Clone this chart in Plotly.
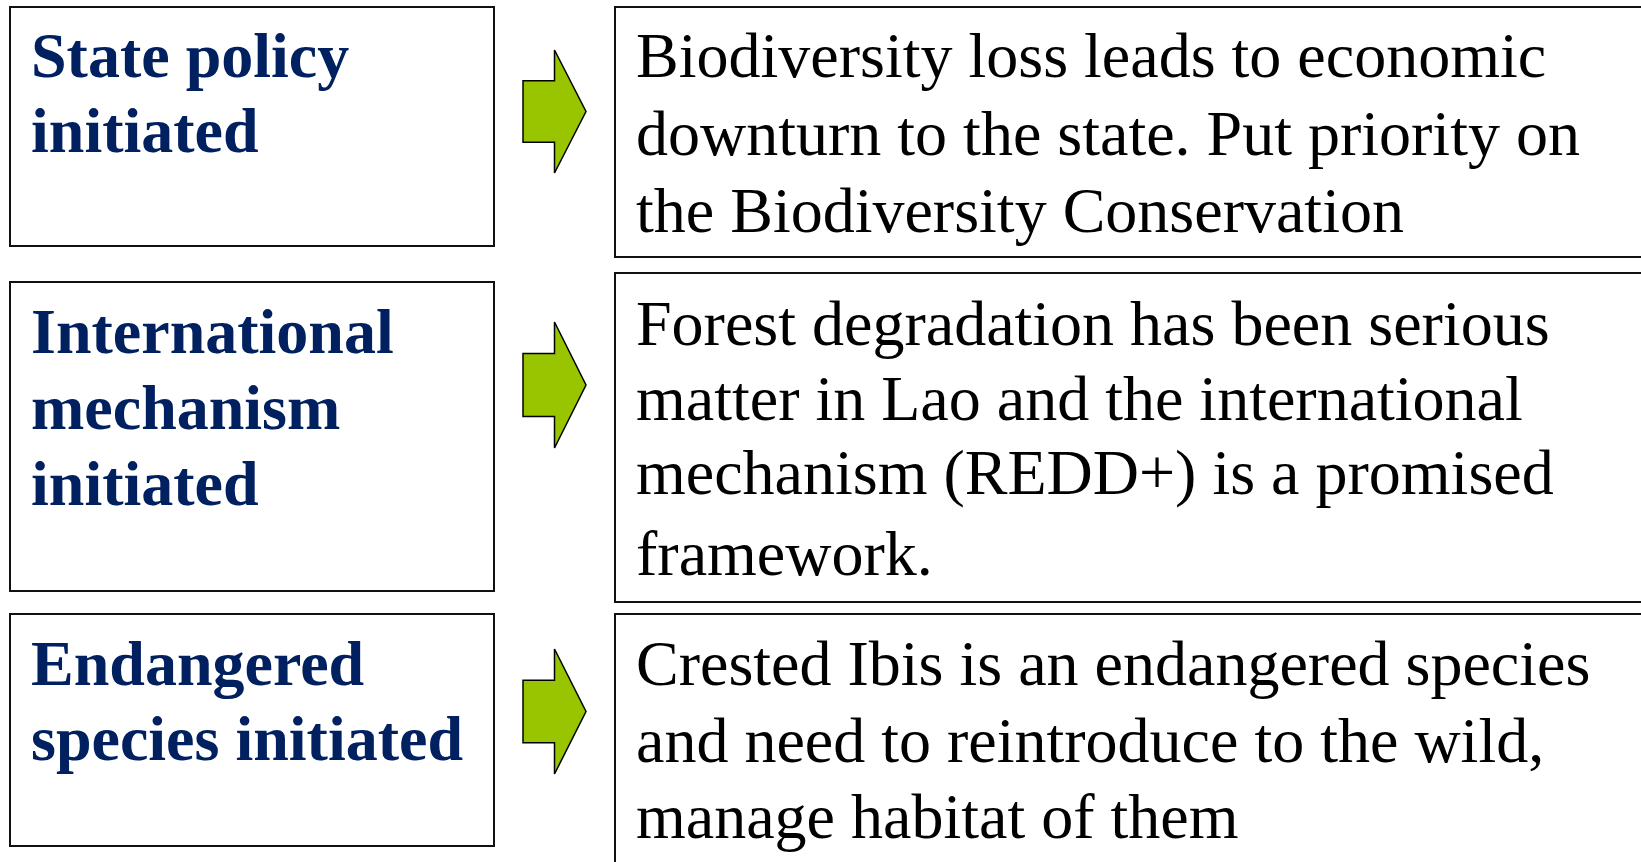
import plotly.graph_objects as go

W, H = 1641, 862

# Content
left_labels = [
    ["State policy", "initiated"],
    ["International", "mechanism", "initiated"],
    ["Endangered", "species initiated"],
]
right_texts = [
    ["Biodiversity loss leads to economic",
     "downturn to the state. Put priority on",
     "the Biodiversity Conservation"],
    ["Forest degradation has been serious",
     "matter in Lao and the international",
     "mechanism (REDD+) is a promised",
     "framework."],
    ["Crested Ibis is an endangered species",
     "and need to reintroduce to the wild,",
     "manage habitat of them"],
]

# Layout geometry (page pixels)
left_boxes = [(10, 7, 494, 246), (10, 282, 494, 591), (10, 614, 494, 846)]
right_boxes = [(615, 7, 1660, 257), (615, 273, 1660, 602), (615, 614, 1660, 880)]
arrows = [(523, 586, 50, 173), (523, 586, 322, 448), (523, 586, 649, 774)]
left_baselines = [[77, 152], [353, 429, 505], [685, 760]]
right_baselines = [[77, 155, 232], [345, 420, 494, 575], [685, 762, 838]]

FS = 64
NAVY = "#002060"
GREEN = "#99C400"
FONT = "Liberation Serif, Times New Roman, serif"
BASE_OFF = 22

fig = go.Figure()
fig.add_trace(go.Scatter(x=[0, W], y=[0, H], mode="markers",
                         marker=dict(opacity=0), hoverinfo="skip", showlegend=False))

shapes = []
for (x0, y0, x1, y1) in left_boxes + right_boxes:
    shapes.append(dict(type="rect", xref="x", yref="y", x0=x0, y0=y0, x1=x1, y1=y1,
                       line=dict(color="#111111", width=2), fillcolor="rgba(0,0,0,0)"))
for (ax0, ax1, ay0, ay1) in arrows:
    cy = (ay0 + ay1) / 2
    h = ay1 - ay0
    xm = ax0 + (ax1 - ax0) * 0.5
    path = (f"M {ax0},{cy - h*0.25} L {xm},{cy - h*0.25} L {xm},{ay0} L {ax1},{cy} "
            f"L {xm},{ay1} L {xm},{cy + h*0.25} L {ax0},{cy + h*0.25} Z")
    shapes.append(dict(type="path", xref="x", yref="y", path=path,
                       fillcolor=GREEN, line=dict(color="#000000", width=1.5)))

annotations = []
for lines, bls in zip(left_labels, left_baselines):
    for t, b in zip(lines, bls):
        annotations.append(dict(x=29, y=b - BASE_OFF, xref="x", yref="y", text=f"<b>{t}</b>",
                                showarrow=False, xanchor="left", yanchor="middle",
                                font=dict(family=FONT, size=FS, color=NAVY)))
for lines, bls in zip(right_texts, right_baselines):
    for t, b in zip(lines, bls):
        annotations.append(dict(x=634, y=b - BASE_OFF, xref="x", yref="y", text=t,
                                showarrow=False, xanchor="left", yanchor="middle",
                                font=dict(family=FONT, size=FS, color="#000000")))

fig.update_layout(
    width=W, height=H, margin=dict(l=0, r=0, t=0, b=0),
    paper_bgcolor="white", plot_bgcolor="white",
    xaxis=dict(range=[0, W], visible=False, fixedrange=True),
    yaxis=dict(range=[H, 0], visible=False, fixedrange=True),
    shapes=shapes, annotations=annotations, showlegend=False,
)
fig.write_html("out.html", config={"displayModeBar": False, "staticPlot": True},
               post_script="document.body.style.margin='0px';document.body.style.overflow='hidden';")
